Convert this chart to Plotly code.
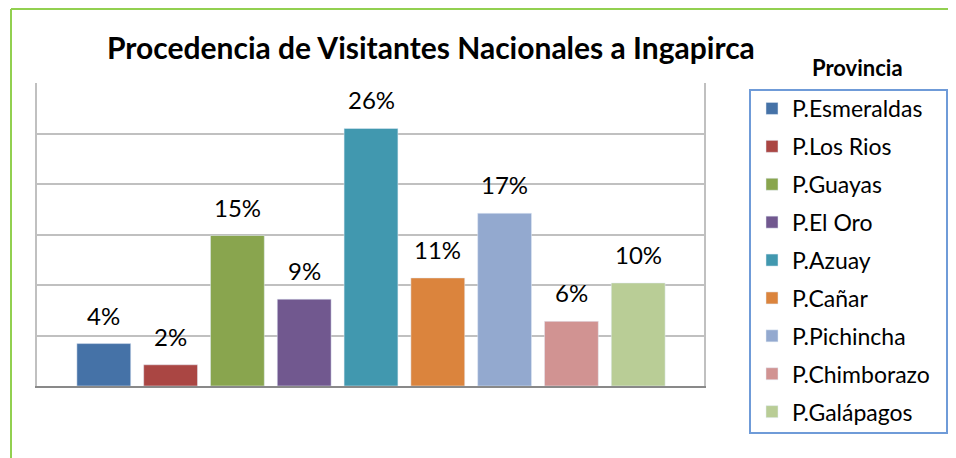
import plotly.graph_objects as go

provincias = ["P.Esmeraldas", "P.Los Rios", "P.Guayas", "P.El Oro", "P.Azuay",
              "P.Cañar", "P.Pichincha", "P.Chimborazo", "P.Galápagos"]
porcentajes = [0.042, 0.021, 0.149, 0.086, 0.255, 0.107, 0.171, 0.064, 0.102]
colores = ["#4572A7", "#AA4643", "#89A54E", "#71588F", "#4198AF",
           "#DB843D", "#93A9CF", "#D19392", "#B9CD96"]

# page body has an 8px margin; work in screen pixels
OFF = 8
SW, SH = 956, 458
W, H = SW - OFF, SH - OFF
L, R, T, B = 37, 704, 83, 386


def px_x(p):
    return (p - L) / (R - L)


def px_y(p):
    return (B - p) / (B - T)


FONT = "Lato"
fig = go.Figure()
for i, (name, v, c) in enumerate(zip(provincias, porcentajes, colores)):
    fig.add_trace(go.Bar(x=[i], y=[v], name=name, marker_color=c, width=0.806,
                         legendgroup=name, hoverinfo="name+y"))
    fig.add_annotation(x=i, y=v, text=f"{v:.0%}", showarrow=False, yanchor="bottom",
                       yshift=12, font=dict(family=FONT, size=24, color="#000000"))

fig.add_annotation(xref="paper", yref="paper", x=px_x(431), y=px_y(47),
                   text="<b>Procedencia de Visitantes Nacionales a Ingapirca</b>",
                   showarrow=False, xanchor="center", yanchor="middle",
                   font=dict(family=FONT, size=30, color="#000000"))
fig.add_annotation(xref="paper", yref="paper", x=px_x(857), y=px_y(67),
                   text="<b>Provincia</b>", showarrow=False, xanchor="center",
                   yanchor="middle", font=dict(family=FONT, size=22, color="#000000"))

# legend box
fig.add_shape(type="rect", xref="paper", yref="paper", x0=px_x(750), x1=px_x(947),
              y0=px_y(433), y1=px_y(90), line=dict(color="#6F9BD8", width=2))
# outer chart border (left & top visible)
fig.add_shape(type="line", xref="paper", yref="paper", x0=px_x(11), x1=px_x(11),
              y0=px_y(470), y1=px_y(9), line=dict(color="#92D050", width=2))
fig.add_shape(type="line", xref="paper", yref="paper", x0=px_x(11), x1=px_x(970),
              y0=px_y(9), y1=px_y(9), line=dict(color="#92D050", width=2))

fig.update_layout(
    width=W, height=H,
    margin=dict(l=L - OFF, r=SW - R, t=T - OFF, b=SH - B, pad=0, autoexpand=False),
    paper_bgcolor="white", plot_bgcolor="white",
    showlegend=True,
    legend=dict(x=px_x(752), y=px_y(87), xanchor="left", yanchor="top",
                font=dict(family=FONT, size=23, color="#000000"),
                tracegroupgap=5, borderwidth=0, bgcolor="rgba(0,0,0,0)",
                maxheight=420),
    xaxis=dict(range=[-1.0, 8.985], showticklabels=False, showgrid=False,
               zeroline=False, showline=True, linecolor="#898989", linewidth=2,
               ticks=""),
    yaxis=dict(range=[0, 0.3], dtick=0.05, showticklabels=False, showgrid=True,
               gridcolor="#C0C0C0", gridwidth=1.5, zeroline=False, showline=True,
               linecolor="#C0C0C0", linewidth=1.5, mirror=True, ticks=""),
    font=dict(family=FONT),
)

fig.write_html("out.html")
